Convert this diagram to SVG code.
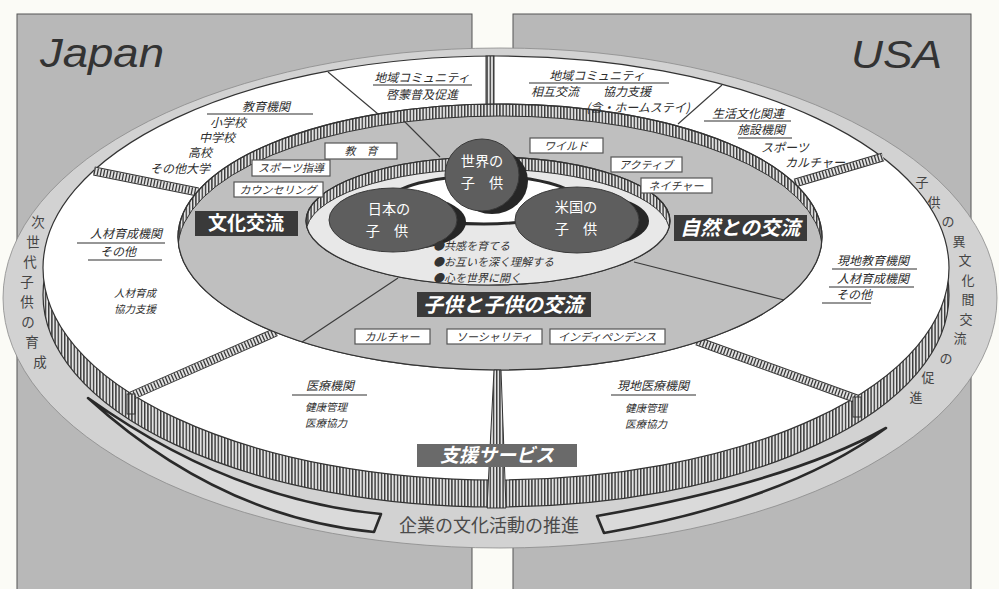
<svg xmlns="http://www.w3.org/2000/svg" width="999" height="589" viewBox="0 0 999 589">
<style>
.jp{font-family:"Noto Sans CJK JP","Noto Sans",sans-serif}
.t{font-family:"Noto Sans CJK JP","Noto Sans",sans-serif;font-size:12px;font-style:italic;fill:#2e2e2e;text-anchor:middle}
.ts{font-size:10.5px}
.ul{stroke:#2e2e2e;stroke-width:1.2}
.box{fill:#fff;stroke:#555;stroke-width:1.2}
.bt{font-family:"Noto Sans CJK JP","Noto Sans",sans-serif;font-size:11px;font-style:italic;fill:#333;text-anchor:middle}
.lab{fill:#3a3a3a}
.lt{font-family:"Noto Sans CJK JP","Noto Sans",sans-serif;font-weight:bold;fill:#fff;text-anchor:middle}
.v{font-family:"Noto Sans CJK JP","Noto Sans",sans-serif;font-size:13.5px;fill:#444;text-anchor:middle}
.vr{font-size:13px}
.kid{fill:#5e5e5e;stroke:#3a3a3a;stroke-width:1}
.sh{fill:#262626}
.kt{font-family:"Noto Sans CJK JP","Noto Sans",sans-serif;font-size:14.2px;fill:#fff;text-anchor:middle}
.thin{stroke:#3a3a3a;stroke-width:1.1;fill:none}
.wallo{stroke:#333;stroke-width:9;stroke-linecap:butt}
.walli{stroke:#e2e2e2;stroke-width:7;stroke-linecap:butt}
.walls{stroke:#3a3a3a;stroke-width:7;stroke-dasharray:1.3 1.9;stroke-linecap:butt}
.bar{fill:#dadada;stroke:#2a2a2a;stroke-width:2.6;stroke-linejoin:round}
</style>
<defs>
<pattern id="hatch" width="3.2" height="8" patternUnits="userSpaceOnUse"><rect width="3.2" height="8" fill="#e4e4e4"/><rect width="1.4" height="8" fill="#383838"/></pattern>
<clipPath id="cm"><ellipse cx="500" cy="237" rx="322" ry="133"/></clipPath>
<clipPath id="ci"><ellipse cx="488" cy="221" rx="182" ry="64"/></clipPath>
</defs>
<rect width="999" height="589" fill="#fbfbf6"/>
<g id="japan-panel">
<rect x="17" y="14" width="455" height="580" fill="#b8b8b8" stroke="#555" stroke-width="1"/>
<text x="40" y="67" font-family="Liberation Sans, Arial, sans-serif" font-size="41" font-style="italic" fill="#333" textLength="124" lengthAdjust="spacingAndGlyphs">Japan</text>
</g>
<g id="usa-panel">
<rect x="513" y="14" width="458" height="580" fill="#b8b8b8" stroke="#555" stroke-width="1"/>
<text x="851" y="68" font-family="Liberation Sans, Arial, sans-serif" font-size="38" font-style="italic" fill="#333" textLength="91" lengthAdjust="spacingAndGlyphs">USA</text>
</g>
<g id="outer-band">
<ellipse cx="500" cy="298" rx="497" ry="250" fill="#d2d2d2" stroke="#8a8a8a" stroke-width="0.8"/>
<path class="bar" d="M88,398 Q231,500 381,514 L374,532 Q219,517 88,398 Z"/>
<path class="bar" d="M886,428 Q790,482 597,516 L604,533 Q787,501 886,428 Z"/>
<text class="jp" x="489" y="532" font-size="18" fill="#4a4a4a" text-anchor="middle">企業の文化活動の推進</text>
<g class="v">
<text x="38" y="227">次</text><text x="33" y="247">世</text><text x="30" y="267">代</text><text x="27" y="287">子</text><text x="27" y="307">供</text><text x="28" y="327">の</text><text x="32" y="347">育</text><text x="40" y="367">成</text>
</g>
<g class="v vr">
<text x="922" y="187">子</text><text x="934" y="206.5">供</text><text x="948" y="226">の</text><text x="959" y="245.5">異</text><text x="965" y="265">文</text><text x="968" y="284.5">化</text><text x="968" y="304">間</text><text x="966" y="323.5">交</text><text x="960" y="343">流</text><text x="946" y="362.5">の</text><text x="928" y="382">促</text><text x="916" y="401.5">進</text>
</g>
</g>
<g id="outer-disk">
<ellipse cx="496" cy="295" rx="453" ry="212" fill="url(#hatch)" stroke="#333" stroke-width="1.2"/>
<ellipse cx="496" cy="268" rx="453" ry="212" fill="#fff" stroke="#333" stroke-width="1.2"/>
</g>
<g id="connectors">
<line class="thin" x1="328" y1="72" x2="378" y2="114"/>
<line class="thin" x1="722" y1="85" x2="678" y2="124"/>
<rect x="486" y="56" width="8" height="54" fill="url(#hatch)" stroke="#333" stroke-width="1"/>
<g>
<line class="wallo" x1="94" y1="171" x2="198" y2="192"/><line class="walli" x1="94" y1="171" x2="198" y2="192"/><line class="walls" x1="94" y1="171" x2="198" y2="192"/>
<line class="wallo" x1="795" y1="183" x2="883" y2="157"/><line class="walli" x1="795" y1="183" x2="883" y2="157"/><line class="walls" x1="795" y1="183" x2="883" y2="157"/>
<line class="wallo" x1="131" y1="396" x2="276" y2="332"/><line class="walli" x1="131" y1="396" x2="276" y2="332"/><line class="walls" x1="131" y1="396" x2="276" y2="332"/>
<line class="wallo" x1="697" y1="341" x2="857" y2="399"/><line class="walli" x1="697" y1="341" x2="857" y2="399"/><line class="walls" x1="697" y1="341" x2="857" y2="399"/>
<rect x="127" y="394" width="8" height="20" fill="url(#hatch)" stroke="#333" stroke-width="1"/>
<rect x="853" y="397" width="8" height="20" fill="url(#hatch)" stroke="#333" stroke-width="1"/>
</g>
</g>
<g id="middle-ring">
<ellipse cx="500" cy="237" rx="322" ry="133" fill="url(#hatch)" stroke="#333" stroke-width="1.2"/>
<ellipse cx="500" cy="249" rx="322" ry="133" fill="#bfbfbf" stroke="#333" stroke-width="1" clip-path="url(#cm)"/>
<ellipse cx="500" cy="237" rx="322" ry="133" fill="none" stroke="#333" stroke-width="1.2"/>
</g>
<g id="bottom-wall">
<polygon points="494,370 501,370 506,508 487,508" fill="url(#hatch)" stroke="#333" stroke-width="1"/>
</g>
<g id="ring-lines">
<line class="thin" x1="404" y1="121" x2="440" y2="157"/>
<line class="thin" x1="398" y1="278" x2="302" y2="342"/>
<line class="thin" x1="634" y1="262" x2="784" y2="300"/>
</g>
<g id="inner-ring">
<ellipse cx="488" cy="221" rx="182" ry="64" fill="url(#hatch)" stroke="#333" stroke-width="1.2"/>
<ellipse cx="488" cy="233" rx="182" ry="64" fill="#e8e8e8" stroke="#333" stroke-width="1" clip-path="url(#ci)"/>
<ellipse cx="488" cy="221" rx="182" ry="64" fill="none" stroke="#333" stroke-width="1.2"/>
</g>
<g id="link">
<ellipse cx="484" cy="200" rx="92" ry="24" fill="#fff" stroke="#2a2a2a" stroke-width="3"/>
</g>
<g id="node-world">
<ellipse class="sh" cx="492" cy="181" rx="36" ry="33"/>
<ellipse class="kid" cx="482" cy="175" rx="37" ry="36"/>
<text class="kt" x="482" y="166">世界の</text><text class="kt" x="482" y="188">子　供</text>
</g>
<g id="node-japan">
<ellipse class="sh" cx="403" cy="222" rx="63" ry="28"/>
<ellipse class="kid" cx="393" cy="220" rx="64" ry="32"/>
<text class="kt" x="389" y="214">日本の</text><text class="kt" x="387" y="236">子　供</text>
</g>
<g id="node-usa">
<ellipse class="sh" cx="587" cy="221" rx="62" ry="27"/>
<ellipse class="kid" cx="577" cy="220" rx="62" ry="33"/>
<text class="kt" x="576" y="212">米国の</text><text class="kt" x="576" y="234">子　供</text>
</g>
<g id="bullets" class="jp" font-size="11" font-style="italic" fill="#333">
<text x="433" y="250">●共感を育てる</text>
<text x="433" y="266">●お互いを深く理解する</text>
<text x="433" y="282">●心を世界に開く</text>
</g>
<g id="label-bunka"><rect class="lab" x="195" y="211" width="103" height="25"/><text class="lt" x="246" y="230" font-size="19">文化交流</text></g>
<g id="label-shizen"><rect class="lab" x="674" y="215" width="133" height="26"/><text class="lt" x="740" y="235" font-size="20" font-style="italic">自然との交流</text></g>
<g id="label-kodomo"><rect class="lab" x="417" y="292" width="174" height="25"/><text class="lt" x="503" y="312" font-size="20" font-style="italic">子供と子供の交流</text></g>
<g id="label-shien"><rect x="417" y="444" width="160" height="23" fill="#6a6a6a"/><text class="lt" x="497" y="462" font-size="19" font-style="italic">支援サービス</text></g>
<g id="tag-kyoiku"><rect class="box" x="325" y="143" width="72" height="16"/><text class="bt" x="361" y="155">教　育</text></g>
<g id="tag-sports"><rect class="box" x="252" y="160" width="78" height="16"/><text class="bt" x="291" y="172">スポーツ指導</text></g>
<g id="tag-counsel"><rect class="box" x="234" y="182" width="89" height="15"/><text class="bt" x="278" y="194">カウンセリング</text></g>
<g id="tag-wild"><rect class="box" x="530" y="138" width="73" height="15"/><text class="bt" x="566" y="150">ワイルド</text></g>
<g id="tag-active"><rect class="box" x="611" y="157" width="71" height="15"/><text class="bt" x="646" y="169">アクティブ</text></g>
<g id="tag-nature"><rect class="box" x="641" y="178" width="71" height="15"/><text class="bt" x="676" y="190">ネイチャー</text></g>
<g id="tag-culture"><rect class="box" x="355" y="329" width="75" height="15"/><text class="bt" x="392" y="341">カルチャー</text></g>
<g id="tag-social"><rect class="box" x="447" y="329" width="95" height="15"/><text class="bt" x="494" y="341">ソーシャリティ</text></g>
<g id="tag-indep"><rect class="box" x="550" y="329" width="115" height="15"/><text class="bt" x="607" y="341">インディペンデンス</text></g>
<g id="sector-edu">
<text class="t" x="266" y="111">教育機関</text><line class="ul" x1="207" y1="114" x2="313" y2="114"/>
<text class="t" x="228" y="127">小学校</text><text class="t" x="217" y="142">中学校</text><text class="t" x="200" y="157">高校</text><text class="t" x="180" y="173">その他大学</text>
</g>
<g id="sector-comm-jp">
<text class="t" x="422" y="82" font-size="13">地域コミュニティ</text><line class="ul" x1="373" y1="85" x2="472" y2="85"/>
<text class="t" x="422" y="99">啓蒙普及促進</text>
</g>
<g id="sector-comm-us">
<text class="t" x="597" y="80" font-size="13">地域コミュニティ</text><line class="ul" x1="529" y1="83" x2="669" y2="83"/>
<text class="t" x="555" y="96">相互交流</text><text class="t" x="627" y="96">協力支援</text>
<text class="t" x="638" y="112" font-size="8">(含・ホームステイ)</text>
</g>
<g id="sector-life">
<text class="t" x="748" y="118" font-size="13">生活文化関連</text><line class="ul" x1="704" y1="121" x2="791" y2="121"/>
<text class="t" x="761" y="134">施設機関</text><line class="ul" x1="738" y1="138" x2="792" y2="138"/>
<text class="t" x="785" y="152">スポーツ</text><text class="t" x="815" y="167">カルチャー</text>
</g>
<g id="sector-hr-jp">
<text class="t" x="126" y="238" font-size="13">人材育成機関</text><line class="ul" x1="77" y1="243" x2="165" y2="243"/>
<text class="t" x="118" y="256" font-size="13">その他</text><line class="ul" x1="88" y1="260" x2="162" y2="260"/>
<text class="t ts" x="135" y="297">人材育成</text><text class="t ts" x="135" y="313">協力支援</text>
</g>
<g id="sector-edu-us">
<text class="t" x="873" y="265" font-size="13">現地教育機関</text><line class="ul" x1="832" y1="269" x2="917" y2="269"/>
<text class="t" x="873" y="283" font-size="13">人材育成機関</text><line class="ul" x1="829" y1="287" x2="914" y2="287"/>
<text class="t" x="854" y="299" font-size="13">その他</text><line class="ul" x1="822" y1="303" x2="871" y2="303"/>
</g>
<g id="sector-med-jp">
<text class="t" x="330" y="390">医療機関</text><line class="ul" x1="292" y1="395" x2="367" y2="395"/>
<text class="t ts" x="326" y="411">健康管理</text><text class="t ts" x="326" y="427">医療協力</text>
</g>
<g id="sector-med-us">
<text class="t" x="653" y="390">現地医療機関</text><line class="ul" x1="611" y1="395" x2="696" y2="395"/>
<text class="t ts" x="646" y="412">健康管理</text><text class="t ts" x="646" y="428">医療協力</text>
</g>
</svg>
